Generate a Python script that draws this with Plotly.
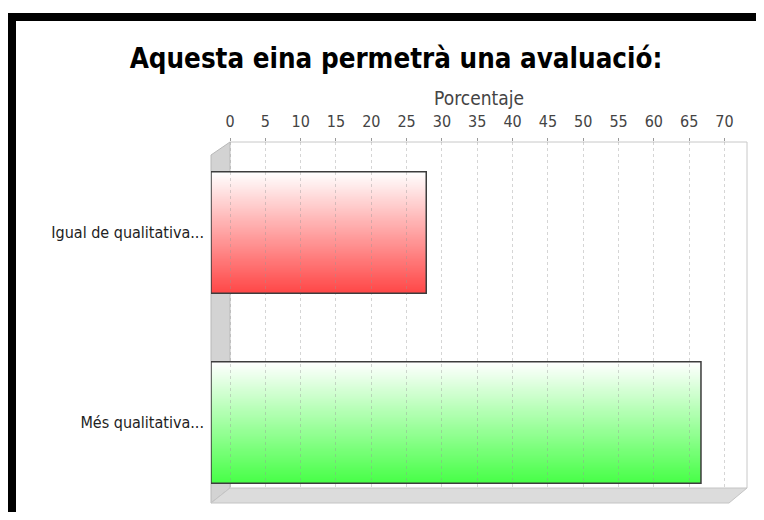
"""Barres horitzontals amb efecte 3D: Aquesta eina permetrà una avaluació."""
import base64
import struct
import zlib

import plotly.graph_objects as go

TITLE = "Aquesta eina permetrà una avaluació:"
AXIS_TITLE = "Porcentaje"
CATEGORIES = ["Igual de qualitativa...", "Més qualitativa..."]
VALUES = [27.78, 66.67]
BAR_COLORS = [(255, 72, 72), (72, 255, 72)]
TICKS = list(range(0, 75, 5))

FONT = "DejaVu Sans Condensed, Liberation Sans Narrow, DejaVu Sans, sans-serif"

# mida de la figura (la pàgina té 8px de marge al body)
W, H = 756, 504
ML, MR, MT, MB = 203, 17, 134, 9
PW, PH = W - ML - MR, H - MT - MB
PAGE = 8

# eixos: 0 a 230px de la pàgina, 70 a 724.5px
PX_PER_UNIT = (724.5 - 230) / 70
XMIN = -(230 - (PAGE + ML)) / PX_PER_UNIT
XMAX = XMIN + PW / PX_PER_UNIT
ROW_PX = 190
YTOP = -(232.5 - (PAGE + MT)) / ROW_PX
YBOT = YTOP + PH / ROW_PX
BAR_W = 121.5 / ROW_PX


def px_x(x):
    return (x - PAGE - ML) / PW


def px_y(y):
    return 1 - (y - PAGE - MT) / PH


def gradient_png(bottom, rows=64):
    """PNG d'1px d'ample amb degradat de blanc (a dalt) al color (a baix)."""
    top = (255, 255, 255)
    raw = b"".join(
        b"\x00" + bytes(round(t + (b - t) * r / (rows - 1)) for t, b in zip(top, bottom))
        for r in range(rows)
    )

    def chunk(tag, data):
        return (struct.pack(">I", len(data)) + tag + data
                + struct.pack(">I", zlib.crc32(tag + data) & 0xFFFFFFFF))

    png = (b"\x89PNG\r\n\x1a\n"
           + chunk(b"IHDR", struct.pack(">IIBBBBB", 1, rows, 8, 2, 0, 0, 0))
           + chunk(b"IDAT", zlib.compress(raw))
           + chunk(b"IEND", b""))
    return "data:image/png;base64," + base64.b64encode(png).decode()


def path(points):
    return "M " + " L ".join(f"{px_x(x)},{px_y(y)}" for x, y in points) + " Z"


positions = list(range(len(CATEGORIES)))

fig = go.Figure(
    go.Bar(
        orientation="h",
        y=positions,
        x=[v - XMIN for v in VALUES],
        base=XMIN,
        width=BAR_W,
        marker=dict(color="rgba(0,0,0,0)", line=dict(color="#3c3c3c", width=1.5)),
        cliponaxis=False,
        hovertext=[f"{c}: {v}" for c, v in zip(CATEGORIES, VALUES)],
        hoverinfo="text",
    )
)

# degradat de cada barra
for pos, v, col in zip(positions, VALUES, BAR_COLORS):
    fig.add_layout_image(
        source=gradient_png(col), xref="x", yref="y",
        x=XMIN, y=pos, sizex=v - XMIN, sizey=BAR_W,
        xanchor="left", yanchor="middle", sizing="stretch", layer="below",
    )

# paret esquerra (semitransparent, per sobre del degradat)
fig.add_shape(type="path", xref="paper", yref="paper", layer="below",
              path=path([(211, 155), (230, 142), (230, 488), (211, 503)]),
              fillcolor="rgba(120,120,120,0.33)", line=dict(color="#b8b8b8", width=1))
# vora de la paret del fons
fig.add_shape(type="path", xref="paper", yref="paper", layer="below",
              path=f"M {px_x(230)},{px_y(142)} L {px_x(747)},{px_y(142)} L {px_x(747)},{px_y(488)}",
              line=dict(color="#c8c8c8", width=1))
# terra
fig.add_shape(type="path", xref="paper", yref="paper", layer="above",
              path=path([(211, 503), (230, 488), (747, 488), (729, 503)]),
              fillcolor="#dcdcdc", line=dict(color="#c4c4c4", width=1))
# marc negre
fig.add_shape(type="rect", xref="paper", yref="paper", layer="above",
              x0=px_x(12), y0=px_y(17), x1=px_x(790), y1=px_y(560),
              line=dict(color="black", width=8), fillcolor="rgba(0,0,0,0)")

fig.update_layout(
    width=W,
    height=H,
    margin=dict(l=ML, r=MR, t=MT, b=MB, pad=0),
    paper_bgcolor="white",
    plot_bgcolor="white",
    showlegend=False,
    font=dict(family=FONT, size=16, color="#444444"),
    title=dict(
        text=f"<b>{TITLE}</b>",
        font=dict(family=FONT, size=27.5, color="black"),
        x=(396 - PAGE) / W, xanchor="center",
        y=1 - (58 - PAGE) / H, yanchor="middle",
    ),
)
fig.update_xaxes(
    side="top",
    range=[XMIN, XMAX],
    tickvals=TICKS,
    ticks="outside",
    ticklen=3,
    tickcolor="#9a9a9a",
    ticklabelstandoff=5,
    tickfont=dict(size=16, color="#444444"),
    showgrid=True,
    gridcolor="rgba(150,150,150,0.4)",
    griddash="3px,3px",
    zeroline=False,
    showline=False,
    title=dict(text=AXIS_TITLE, font=dict(size=19, color="#444444"), standoff=0),
)
fig.update_yaxes(
    range=[YBOT, YTOP],
    tickvals=positions,
    ticktext=CATEGORIES,
    ticks="",
    ticklabelstandoff=6,
    tickfont=dict(size=16, color="#222222"),
    showgrid=False,
    zeroline=False,
    showline=False,
)

fig.write_html("out.html")
